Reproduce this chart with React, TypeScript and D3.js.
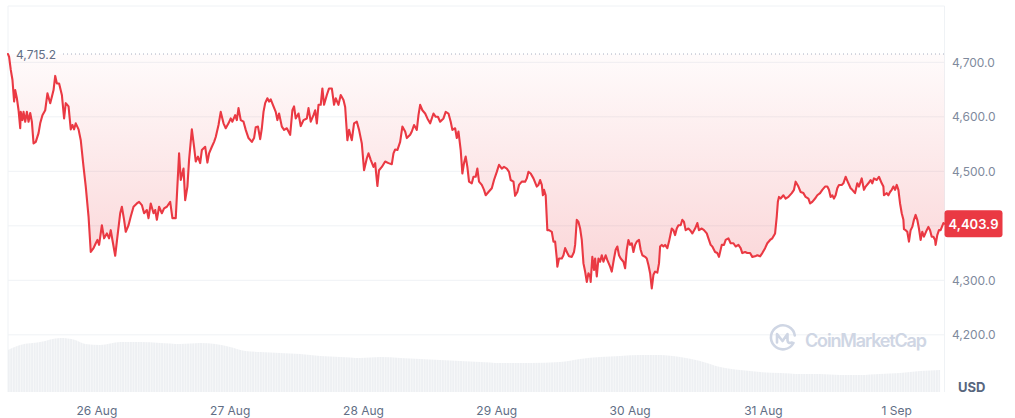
import * as d3 from "d3";

// 7D ETH/USD price: [hours since open, price in USD]
const pricePoints: [number, number][] = [
  [0, 4715.2], [0.2, 4710], [0.5, 4686], [0.8, 4668], [1.1, 4628], [1.3, 4649], [1.6, 4634], [1.9, 4612],
  [2.2, 4579], [2.3, 4609], [2.6, 4594], [2.8, 4609], [3.1, 4591], [3.4, 4609], [3.7, 4591], [4.0, 4607],
  [4.3, 4591], [4.6, 4551], [5.0, 4554], [5.5, 4570], [5.8, 4588], [6.2, 4603], [6.7, 4612], [7.1, 4643],
  [7.6, 4625], [7.9, 4637], [8.2, 4649], [8.5, 4675], [8.8, 4661], [9.2, 4661], [9.7, 4640], [10.1, 4597],
  [10.4, 4625], [10.9, 4619], [11.3, 4577], [11.6, 4585], [11.9, 4577], [12.2, 4588], [12.7, 4577], [13.1, 4557],
  [13.6, 4508], [14.0, 4472], [14.5, 4417], [14.9, 4352], [15.4, 4359], [15.8, 4368], [16.1, 4374], [16.4, 4365],
  [16.9, 4401], [17.3, 4377], [17.8, 4386], [18.2, 4377], [18.5, 4392], [18.8, 4374], [19.3, 4345], [19.7, 4380],
  [20.2, 4423], [20.5, 4435], [20.9, 4411], [21.2, 4389], [21.7, 4401], [22.1, 4417], [22.6, 4435], [23.2, 4441],
  [23.6, 4444], [24.1, 4438], [24.5, 4423], [25.0, 4429], [25.3, 4414], [25.7, 4441], [26.2, 4423], [26.5, 4429],
  [26.8, 4411], [27.2, 4435], [27.7, 4423], [28.1, 4432], [28.6, 4435], [29.2, 4444], [29.6, 4414], [30.2, 4414],
  [30.8, 4533], [31.1, 4484], [31.6, 4505], [31.9, 4447], [32.3, 4472], [32.6, 4521], [33.1, 4577], [33.5, 4545],
  [33.8, 4518], [34.2, 4527], [34.6, 4515], [34.9, 4539], [35.5, 4545], [35.9, 4516], [36.2, 4533], [36.7, 4545],
  [37.1, 4554], [37.4, 4563], [37.9, 4585], [38.3, 4609], [38.8, 4588], [39.2, 4579], [39.7, 4588], [40.1, 4597],
  [40.4, 4591], [40.9, 4603], [41.2, 4594], [41.5, 4616], [41.9, 4594], [42.4, 4591], [42.8, 4576], [43.3, 4561],
  [43.9, 4554], [44.3, 4561], [44.6, 4581], [45.0, 4582], [45.4, 4559], [45.7, 4579], [46.0, 4609], [46.3, 4625],
  [46.7, 4634], [47.0, 4628], [47.3, 4632], [47.8, 4619], [48.2, 4609], [48.5, 4594], [48.8, 4606], [49.3, 4582],
  [49.7, 4576], [50.2, 4579], [50.8, 4567], [51.2, 4612], [51.5, 4619], [51.8, 4597], [52.3, 4606], [52.7, 4583],
  [53.2, 4594], [53.8, 4597], [54.1, 4616], [54.5, 4591], [55.0, 4603], [55.3, 4612], [55.6, 4588], [55.9, 4622],
  [56.3, 4622], [56.6, 4652], [56.9, 4622], [57.4, 4640], [57.8, 4652], [58.3, 4652], [58.7, 4622], [59.0, 4634],
  [59.5, 4622], [59.9, 4640], [60.4, 4631], [60.7, 4618], [61.1, 4557], [61.4, 4576], [61.9, 4557], [62.3, 4588],
  [62.8, 4591], [63.2, 4576], [63.7, 4551], [64.1, 4502], [64.6, 4524], [64.9, 4533], [65.3, 4521], [65.8, 4508],
  [66.1, 4515], [66.5, 4473], [66.8, 4502], [67.3, 4508], [67.9, 4518], [68.5, 4515], [69.1, 4513], [69.4, 4533],
  [69.7, 4540], [70.1, 4539], [70.6, 4554], [71.0, 4582], [71.5, 4573], [71.8, 4561], [72.4, 4567], [72.7, 4573],
  [73.1, 4585], [73.6, 4576], [73.9, 4603], [74.2, 4622], [74.6, 4612], [75.1, 4606], [75.5, 4597], [76.0, 4588],
  [76.6, 4606], [77.0, 4600], [77.4, 4600], [77.8, 4591], [78.4, 4597], [78.8, 4609], [79.3, 4606], [79.7, 4591],
  [80.0, 4576], [80.5, 4579], [80.8, 4561], [81.1, 4573], [81.5, 4539], [81.8, 4496], [82.1, 4515], [82.4, 4527],
  [82.7, 4508], [83.0, 4481], [83.5, 4478], [83.8, 4490], [84.2, 4490], [84.5, 4505], [84.8, 4481], [85.3, 4475],
  [85.7, 4466], [86.0, 4456], [86.5, 4462], [87.1, 4469], [87.5, 4484], [88.0, 4499], [88.4, 4512], [88.9, 4505],
  [89.3, 4508], [89.8, 4505], [90.2, 4499], [90.5, 4484], [91.0, 4481], [91.3, 4455], [91.7, 4462], [92.0, 4475],
  [92.5, 4481], [93.1, 4481], [93.4, 4487], [93.7, 4499], [94.1, 4496], [94.6, 4487], [95.2, 4472], [95.5, 4475],
  [95.8, 4484], [96.1, 4475], [96.3, 4456], [96.5, 4466], [96.8, 4456], [97.1, 4392], [97.4, 4392], [97.9, 4389],
  [98.2, 4371], [98.5, 4371], [98.8, 4340], [98.9, 4325], [99.2, 4340], [99.7, 4340], [100.0, 4346], [100.3, 4359],
  [100.7, 4350], [101.0, 4344], [101.5, 4343], [101.9, 4352], [102.1, 4365], [102.4, 4411], [102.7, 4407], [103.0, 4395],
  [103.3, 4374], [103.6, 4331], [103.9, 4316], [104.2, 4297], [104.5, 4313], [104.8, 4307], [104.9, 4297], [105.2, 4343],
  [105.5, 4319], [105.7, 4340], [106.0, 4307], [106.3, 4340], [106.6, 4334], [106.9, 4346], [107.2, 4334], [107.6, 4346],
  [107.9, 4337], [108.4, 4325], [108.7, 4316], [109.1, 4340], [109.4, 4356], [109.7, 4362], [110.0, 4346], [110.3, 4340],
  [110.8, 4334], [111.1, 4322], [111.4, 4356], [111.7, 4374], [112.0, 4365], [112.3, 4368], [112.6, 4352], [112.9, 4365],
  [113.2, 4371], [113.6, 4374], [113.9, 4356], [114.2, 4346], [114.7, 4343], [115.0, 4340], [115.3, 4328], [115.6, 4313],
  [115.9, 4285], [116.2, 4310], [116.5, 4316], [116.9, 4314], [117.2, 4331], [117.4, 4362], [117.7, 4365], [118.0, 4362],
  [118.3, 4365], [118.7, 4359], [119.0, 4371], [119.5, 4395], [119.8, 4392], [120.1, 4383], [120.4, 4395], [120.7, 4401],
  [121.1, 4401], [121.4, 4411], [121.7, 4407], [122.0, 4392], [122.5, 4395], [122.8, 4392], [123.2, 4386], [123.7, 4395],
  [124.1, 4405], [124.4, 4392], [124.9, 4395], [125.3, 4392], [125.8, 4386], [126.1, 4377], [126.5, 4365], [126.8, 4362],
  [127.3, 4352], [127.7, 4350], [128.0, 4343], [128.5, 4365], [128.9, 4365], [129.2, 4374], [129.7, 4377], [130.1, 4368],
  [130.6, 4368], [131.0, 4362], [131.5, 4365], [131.9, 4359], [132.2, 4350], [132.7, 4352], [133.1, 4350], [133.6, 4350],
  [134.0, 4343], [134.5, 4344], [134.9, 4346], [135.4, 4344], [135.8, 4350], [136.3, 4359], [136.7, 4368], [137.2, 4374],
  [137.6, 4377], [138.1, 4386], [138.4, 4417], [138.6, 4444], [138.8, 4453], [139.1, 4450], [139.6, 4456], [140.0, 4450],
  [140.5, 4453], [141.1, 4460], [141.5, 4466], [141.8, 4481], [142.3, 4472], [142.7, 4462], [143.2, 4460], [143.6, 4453],
  [144.1, 4450], [144.4, 4441], [144.8, 4444], [145.3, 4450], [145.7, 4456], [146.2, 4460], [146.6, 4466], [147.1, 4472],
  [147.5, 4472], [147.8, 4466], [148.1, 4453], [148.4, 4456], [148.7, 4450], [149.0, 4456], [149.3, 4469], [149.6, 4475],
  [150.1, 4475], [150.4, 4478], [150.8, 4490], [151.3, 4478], [151.7, 4469], [152.0, 4466], [152.5, 4460], [152.9, 4478],
  [153.2, 4472], [153.7, 4487], [154.1, 4466], [154.4, 4472], [154.9, 4478], [155.3, 4484], [155.6, 4478], [155.9, 4487],
  [156.4, 4484], [156.8, 4490], [157.3, 4478], [157.6, 4472], [157.7, 4456], [158.2, 4460], [158.5, 4456], [158.8, 4462],
  [159.1, 4466], [159.4, 4472], [159.7, 4466], [160.0, 4475], [160.3, 4466], [160.6, 4441], [160.9, 4423], [161.2, 4411],
  [161.3, 4394], [161.6, 4392], [161.9, 4389], [162.2, 4371], [162.5, 4392], [162.8, 4398], [163.1, 4411], [163.4, 4420],
  [163.7, 4411], [164.0, 4395], [164.3, 4374], [164.6, 4389], [164.9, 4380], [165.4, 4392], [165.7, 4398], [166.0, 4392],
  [166.3, 4380], [166.6, 4380], [166.9, 4374], [167.0, 4365], [167.3, 4383], [167.6, 4392], [167.9, 4392], [168.4, 4405],
  [168.6, 4403.9],
];

// trading volume (USD bn), [hours since open, volume]
const volumePoints: [number, number][] = [
  [0, 42], [2.2, 47], [5.8, 50], [9.4, 54], [12.1, 52], [13.9, 48], [16.6, 47], [20.2, 50], [23.8, 50],
  [27.4, 49], [31.0, 48], [34.6, 49], [37.3, 48], [40.0, 45], [42.7, 41], [45.4, 40], [49.0, 39], [52.6, 38],
  [56.2, 36], [59.8, 35], [63.4, 34], [67.0, 35], [70.6, 34], [74.2, 33], [77.8, 32], [81.4, 31], [85.0, 30],
  [88.6, 29], [94.0, 29], [99.4, 30], [103.0, 33], [106.6, 35], [110.2, 36], [113.8, 37], [117.4, 37],
  [121.0, 35], [124.6, 31], [128.2, 25], [131.8, 22], [135.4, 20], [139.0, 19], [142.6, 18], [146.2, 18],
  [149.8, 17], [153.4, 17], [157.0, 18], [160.6, 19], [164.2, 21], [167.8, 22],
];

const openTime = new Date(2025, 7, 25, 8, 0);
const spanHours = 168.6;
const openPrice = 4715.2;
const lastPrice = 4403.9;
const priceTicks = [4200, 4300, 4400, 4500, 4600, 4700];

const W = 1015;
const H = 418;
const left = 8;
const right = 944.5;
const top = 6;
const volBottom = 392;

const red = "#ea3943";
const grid = "#eff2f5";
const font = "Inter, 'Noto Sans', sans-serif";

const toDate = (h: number) => new Date(+openTime + h * 3600e3);

export default function App() {
  const x = d3.scaleTime().domain([openTime, toDate(spanHours)]).range([left, right]);
  const y = d3.scaleLinear().domain([4200, 4700]).range([334.8, 62.3]);
  const yVol = d3.scaleLinear().domain([0, 60]).range([volBottom, 332]);

  const line = d3
    .line<[number, number]>()
    .x((d) => x(toDate(d[0])))
    .y((d) => y(d[1]));
  const fillArea = d3
    .area<[number, number]>()
    .x((d) => x(toDate(d[0])))
    .y0(y(openPrice))
    .y1((d) => y(d[1]));
  const volArea = d3
    .area<[number, number]>()
    .curve(d3.curveMonotoneX)
    .x((d) => x(toDate(d[0])))
    .y0(volBottom)
    .y1((d) => yVol(d[1]));

  const dayTicks = x.ticks(d3.timeDay.every(1)!);
  const fmtDay = d3.timeFormat("%-d %b");
  const fmtPrice = d3.format(",.1f");
  // the last-price badge covers the tick label it sits on
  const shownTicks = priceTicks.filter((t) => Math.abs(y(t) - y(lastPrice)) > 16);

  return (
    <svg
      width={W}
      height={H}
      style={{ position: "absolute", left: 0, top: 0, background: "#fff" }}
      fontFamily={font}
    >
      <defs>
        <linearGradient id="redFill" gradientUnits="userSpaceOnUse" x1={0} x2={0} y1={y(openPrice)} y2={y(4285)}>
          <stop offset="0" stopColor={red} stopOpacity={0.02} />
          <stop offset="1" stopColor={red} stopOpacity={0.22} />
        </linearGradient>
        <pattern id="volStripes" width={2.6} height={10} patternUnits="userSpaceOnUse">
          <rect width={2.6} height={10} fill="#f8f9fa" />
          <rect width={1.8} height={10} fill="#eef0f3" />
        </pattern>
      </defs>

      {/* frame and grid */}
      <line x1={left} x2={right} y1={top} y2={top} stroke={grid} />
      <line x1={left} x2={left} y1={top} y2={volBottom} stroke={grid} />
      <line x1={right} x2={right} y1={top} y2={volBottom} stroke={grid} />
      {priceTicks.map((t) => (
        <line key={t} x1={left} x2={right} y1={y(t)} y2={y(t)} stroke={grid} />
      ))}

      {/* volume */}
      <path d={volArea(volumePoints) || undefined} fill="url(#volStripes)" />

      {/* watermark */}
      <g transform="translate(783,337.5)" fill="none" stroke="#cfd6e4" strokeWidth={2.6} strokeLinecap="round" strokeLinejoin="round">
        <path d="M10.5,5.5 A12,12 0 1 1 11.8,-2" />
        <path d="M-6,5 V-3.5 L-0.5,3.5 L4.5,-3.5 V3 Q5,6.5 9,5" />
      </g>
      <text x={805} y={347} fontSize={18} fontWeight={600} fill="#cfd6e4" textLength={122}>
        CoinMarketCap
      </text>

      {/* opening price reference */}
      <line
        x1={63}
        x2={right}
        y1={y(openPrice)}
        y2={y(openPrice)}
        stroke="#a6b0c3"
        strokeDasharray="1 3"
      />
      <text x={16} y={y(openPrice)} dominantBaseline="central" fontSize={12} fill="#616e85">
        {fmtPrice(openPrice)}
      </text>

      {/* price */}
      <path d={fillArea(pricePoints) || undefined} fill="url(#redFill)" />
      <path
        d={line(pricePoints) || undefined}
        fill="none"
        stroke={red}
        strokeWidth={2.1}
        strokeLinejoin="round"
        strokeLinecap="round"
      />

      {/* y axis */}
      {shownTicks.map((t) => (
        <text key={t} x={952} y={y(t)} dominantBaseline="central" fontSize={12} fill="#808a9d">
          {fmtPrice(t)}
        </text>
      ))}
      <text x={958} y={391.5} fontSize={13} fontWeight={700} fill="#58667e">
        USD
      </text>

      {/* last price badge */}
      <rect x={right} y={y(lastPrice) - 13.5} width={58} height={27} rx={3} fill={red} />
      <text
        x={right + 29}
        y={y(lastPrice)}
        dominantBaseline="central"
        textAnchor="middle"
        fontSize={13}
        fontWeight={600}
        fill="#fff"
      >
        {fmtPrice(lastPrice)}
      </text>

      {/* x axis */}
      {dayTicks.map((d) => (
        <text key={+d} x={x(d)} y={415} textAnchor="middle" fontSize={12} fill="#616e85">
          {fmtDay(d)}
        </text>
      ))}
    </svg>
  );
}
